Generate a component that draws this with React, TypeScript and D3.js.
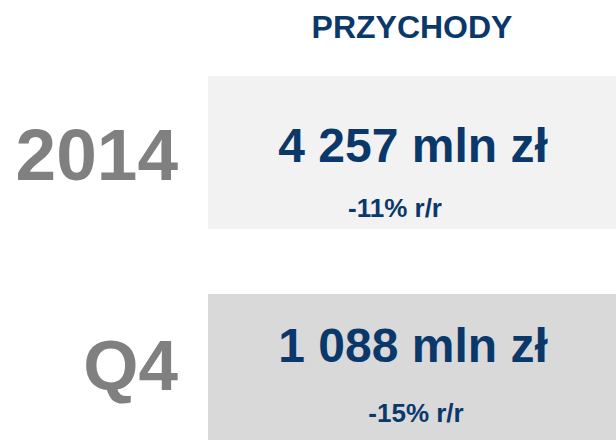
import React from "react";
import * as d3 from "d3";

const title = "PRZYCHODY";
const periods = ["2014", "Q4"];
const values = [4257, 1088];
const changes = [-11, -15];
const unit = "mln zł";
const changeSuffix = "r/r";
const boxColors = ["#f2f2f2", "#d9d9d9"];

const W = 616;
const H = 440;
const FONT = "'Liberation Sans', Arial, Helvetica, sans-serif";
const BLUE = "#0b386b";
const GRAY = "#808080";

const locale = d3.formatLocale({ decimal: ",", thousands: " ", grouping: [3], currency: ["", " zł"] });
const fmtVal = locale.format(",d");

export default function App() {
  const boxX = 208;
  const cx = (boxX + W) / 2;
  const boxTop = [76, 294];
  const boxBottom = [229, 440];
  const periodBase = [180, 390];
  const periodSize = [73, 71];
  const valueBase = [162, 362];
  const changeBase = [217, 422];
  const changeX = [395, 416];
  return (
    <svg width={W} height={H} style={{ position: "absolute", left: 0, top: 0, background: "#fff" }}>
      <text x={cx} y={38} textAnchor="middle" fontFamily={FONT} fontWeight="bold" fontSize={32} fill={BLUE}>
        {title}
      </text>
      {periods.map((p, i) => (
        <g key={p}>
          <rect x={boxX} y={boxTop[i]} width={W - boxX} height={boxBottom[i] - boxTop[i]} fill={boxColors[i]} />
          <text x={178} y={periodBase[i]} textAnchor="end" fontFamily={FONT} fontWeight="bold" fontSize={periodSize[i]} fill={GRAY}>
            {p}
          </text>
          <text x={cx + 1} y={valueBase[i]} textAnchor="middle" fontFamily={FONT} fontWeight="bold" fontSize={48} fill={BLUE}>
            {fmtVal(values[i])} {unit}
          </text>
          <text x={changeX[i]} y={changeBase[i]} textAnchor="middle" fontFamily={FONT} fontWeight="bold" fontSize={26} fill={BLUE}>
            {changes[i]}% {changeSuffix}
          </text>
        </g>
      ))}
    </svg>
  );
}
